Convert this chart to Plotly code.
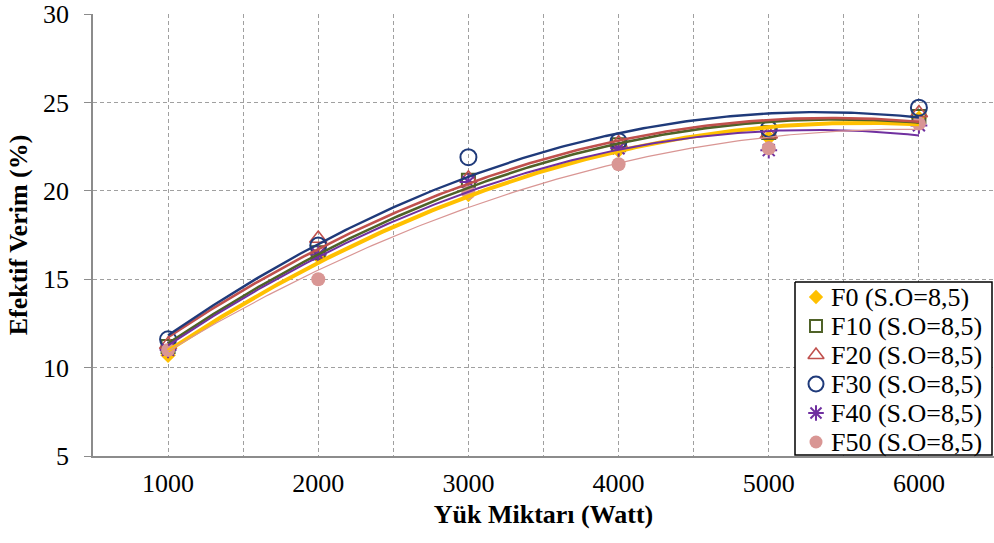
import numpy as np
import plotly.graph_objects as go

# Load (W) and effective efficiency (%) for each fuel blend
yuk = [1000, 2000, 3000, 4000, 5000, 6000]
f0 = [10.7, 16.3, 19.8, 22.3, 23.0, 24.1]
f10 = [11.2, 16.5, 20.6, 22.6, 23.3, 24.2]
f20 = [11.3, 17.3, 20.7, 22.7, 23.2, 24.4]
f30 = [11.6, 16.9, 21.9, 22.8, 23.5, 24.7]
f40 = [11.0, 16.4, 20.5, 22.4, 22.3, 23.7]
f50 = [11.0, 15.0, 19.9, 21.5, 22.4, 23.8]

names = ["F0 (S.O=8,5)", "F10 (S.O=8,5)", "F20 (S.O=8,5)",
         "F30 (S.O=8,5)", "F40 (S.O=8,5)", "F50 (S.O=8,5)"]
series = [f0, f10, f20, f30, f40, f50]

styles = [
    dict(color="#FFC000", symbol="diamond", size=12, lw=4.0, mlw=0),
    dict(color="#4F6228", symbol="square-open", size=13, lw=2.6, mlw=2),
    dict(color="#C0504D", symbol="triangle-up-open", size=15, lw=2.6, mlw=1.6),
    dict(color="#1F3A7A", symbol="circle-open", size=16, lw=2.4, mlw=2),
    dict(color="#7030A0", symbol="asterisk-open", size=14, lw=2.0, mlw=2),
    dict(color="#D99694", symbol="circle", size=14, lw=1.2, mlw=0),
]

serif = "Liberation Serif, Times New Roman, serif"
grid = "#A0A0A0"
axis_gray = "#8C8C8C"

fig = go.Figure()

# Measured points
for name, ys, st in zip(names, series, styles):
    fig.add_trace(go.Scatter(
        x=yuk, y=ys, mode="markers", name=name, showlegend=False,
        marker=dict(symbol=st["symbol"], size=st["size"], color=st["color"],
                    line=dict(width=st["mlw"], color=st["color"])),
    ))

# Second-order polynomial trendlines
xs = np.linspace(yuk[0], yuk[-1], 200)
for ys, st in zip(series, styles):
    c = np.polyfit(yuk, ys, 2)
    fig.add_trace(go.Scatter(
        x=xs, y=np.polyval(c, xs), mode="lines", showlegend=False,
        hoverinfo="skip", line=dict(color=st["color"], width=st["lw"]),
    ))

# Key box on a pixel-scaled overlay axis pair (x: 93..994, y: 456..14 top-down)
box_x = [795, 992, 992, 795, 795]
box_y = [282, 282, 455, 455, 282]
key_rows = [297, 326, 355, 384, 413, 442]
key_mark_x = 816
key_text_x = 829

fig.add_trace(go.Scatter(
    x=box_x, y=box_y, xaxis="x2", yaxis="y2", mode="lines",
    fill="toself", fillcolor="white", line=dict(color="black", width=1.5),
    showlegend=False, hoverinfo="skip",
))
for name, ry, st in zip(names, key_rows, styles):
    fig.add_trace(go.Scatter(
        x=[key_mark_x], y=[ry], xaxis="x2", yaxis="y2",
        mode="markers", showlegend=False, hoverinfo="skip",
        marker=dict(symbol=st["symbol"], size=st["size"] - 1, color=st["color"],
                    line=dict(width=st["mlw"], color=st["color"])),
    ))
    fig.add_annotation(
        x=key_text_x, y=ry, xref="x2", yref="y2", text=name, showarrow=False,
        xanchor="left", yanchor="middle",
        font=dict(family=serif, size=26, color="black"),
    )

fig.update_layout(
    width=994, height=543,
    margin=dict(l=93, r=0, t=14, b=87),
    plot_bgcolor="white", paper_bgcolor="white",
    font=dict(family=serif, size=26, color="black"),
    showlegend=False,
    xaxis=dict(
        range=[500, 6500], tickvals=yuk, ticktext=[str(v) for v in yuk],
        showgrid=True, gridcolor=grid, griddash="4px,3px", gridwidth=1,
        minor=dict(dtick=500, tick0=500, showgrid=True, gridcolor=grid,
                   griddash="4px,3px", gridwidth=1),
        showline=True, linecolor=axis_gray, linewidth=1.5,
        ticks="", ticklabelstandoff=3, zeroline=False,
        title=dict(text="<b>Yük Miktarı (Watt)</b>", font=dict(size=26), standoff=8),
        tickfont=dict(size=26),
    ),
    yaxis=dict(
        range=[5, 30], tickvals=[5, 10, 15, 20, 25, 30],
        showgrid=True, gridcolor=grid, griddash="4px,3px", gridwidth=1,
        showline=True, linecolor=axis_gray, linewidth=1.5,
        ticks="outside", ticklen=7, tickcolor=axis_gray,
        ticklabelstandoff=10, zeroline=False,
        title=dict(text="<b>Efektif Verim (%)</b>", font=dict(size=26), standoff=8),
        tickfont=dict(size=26),
    ),
    xaxis2=dict(overlaying="x", anchor="y2", range=[93, 994], visible=False,
                fixedrange=True),
    yaxis2=dict(overlaying="y", anchor="x2", range=[456, 14], visible=False,
                fixedrange=True),
)

fig.write_html("out.html")
